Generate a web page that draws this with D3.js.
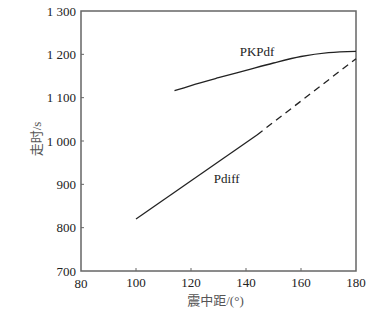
<!DOCTYPE html>
<html>
<head>
<meta charset="utf-8">
<script src="https://cdn.jsdelivr.net/npm/d3@7"></script>
<style>
  body { margin: 0; background: #fff; }
</style>
</head>
<body>
<div id="chart"></div>
<script>
// travel time curves (distance in degrees, time in s)
var pkpdfDist = [114, 120, 130, 140, 150, 160, 170, 180];
var pkpdfTime = [1116, 1128, 1146, 1163, 1180, 1195, 1204, 1207];

var pdiffDist = [100, 144];
var pdiffTime = [820, 1014];

var pdiffExtDist = [144, 180];
var pdiffExtTime = [1014, 1190];

var xTicks = [80, 100, 120, 140, 160, 180];
var yTicks = [700, 800, 900, 1000, 1100, 1200, 1300];

(function(){
    var width = 371;
    var height = 310;

    var margin = {
        top: 11,
        bottom: 39,
        left: 81,
        right: 15,
    };

    var svg = d3.select("#chart")
        .append("svg")
            .attr("width", width)
            .attr("height", height)
            .style("font-family", '"Liberation Serif", "Times New Roman", "DejaVu Serif", "Noto Sans CJK SC", serif');

    var g = svg.append("g")
        .attr("transform", "translate(" + margin.left + "," + margin.top + ")");

    var w = width - margin.left - margin.right;
    var h = height - margin.top - margin.bottom;

    var xScale = d3.scaleLinear().domain([80, 180]).range([0, w]);
    var yScale = d3.scaleLinear().domain([700, 1300]).range([h, 0]);

    // thousands separated by a space, like "1 300"
    var yfmt = function(d){
        var s = String(d);
        return s.length > 3 ? s.slice(0, s.length - 3) + " " + s.slice(-3) : s;
    };

    var axisColor = "#666";
    var textColor = "#222";

    // frame
    g.append("rect")
        .attr("x", 0)
        .attr("y", 0)
        .attr("width", w)
        .attr("height", h)
        .attr("fill", "none")
        .attr("stroke", axisColor)
        .attr("stroke-width", 1.5);

    // x ticks (inward)
    g.selectAll(".xtick")
        .data(xTicks.slice(1, -1))
        .enter()
        .append("line")
        .attr("x1", function(d){ return xScale(d); })
        .attr("x2", function(d){ return xScale(d); })
        .attr("y1", h)
        .attr("y2", h - 3)
        .attr("stroke", axisColor)
        .attr("stroke-width", 1);

    g.selectAll(".xlab")
        .data(xTicks)
        .enter()
        .append("text")
        .attr("x", function(d){ return xScale(d); })
        .attr("y", function(d, i){ return h + (i == 0 ? 17 : 16); })
        .attr("text-anchor", "middle")
        .attr("font-size", "13px")
        .attr("fill", textColor)
        .text(function(d){ return d; });

    // y ticks (inward)
    g.selectAll(".ytick")
        .data(yTicks.slice(1, -1))
        .enter()
        .append("line")
        .attr("x1", 0)
        .attr("x2", 3)
        .attr("y1", function(d){ return yScale(d); })
        .attr("y2", function(d){ return yScale(d); })
        .attr("stroke", axisColor)
        .attr("stroke-width", 1);

    g.selectAll(".ylab")
        .data(yTicks)
        .enter()
        .append("text")
        .attr("x", -5)
        .attr("y", function(d){ return yScale(d); })
        .attr("dy", "0.35em")
        .attr("text-anchor", "end")
        .attr("font-size", "13px")
        .attr("fill", textColor)
        .text(yfmt);

    // axis titles
    svg.append("text")
        .attr("x", margin.left + w / 2 - 3)
        .attr("y", 305)
        .attr("text-anchor", "middle")
        .attr("font-size", "13px")
        .attr("fill", "#555")
        .text("震中距/(°)");

    svg.append("text")
        .attr("transform", "translate(41," + (margin.top + h / 2 - 2) + ") rotate(-90)")
        .attr("text-anchor", "middle")
        .attr("font-size", "13px")
        .attr("fill", "#555")
        .text("走时/s");

    var line = d3.line()
        .x(function(d){ return xScale(d[0]); })
        .y(function(d){ return yScale(d[1]); })
        .curve(d3.curveMonotoneX);

    var zip = function(a, b){ return a.map(function(v, i){ return [v, b[i]]; }); };

    g.append("path")
        .attr("d", line(zip(pkpdfDist, pkpdfTime)))
        .attr("fill", "none")
        .attr("stroke", "#222")
        .attr("stroke-width", 1.3);

    g.append("path")
        .attr("d", line(zip(pdiffDist, pdiffTime)))
        .attr("fill", "none")
        .attr("stroke", "#222")
        .attr("stroke-width", 1.3);

    g.append("path")
        .attr("d", line(zip(pdiffExtDist, pdiffExtTime)))
        .attr("fill", "none")
        .attr("stroke", "#222")
        .attr("stroke-width", 1.3)
        .attr("stroke-dasharray", "7,5");

    // curve labels
    g.append("text")
        .attr("x", xScale(144))
        .attr("y", yScale(1196))
        .attr("text-anchor", "middle")
        .attr("font-size", "13px")
        .attr("fill", textColor)
        .text("PKPdf");

    g.append("text")
        .attr("x", xScale(133))
        .attr("y", yScale(903))
        .attr("text-anchor", "middle")
        .attr("font-size", "13px")
        .attr("fill", textColor)
        .text("Pdiff");
})();
</script>
</body>
</html>
